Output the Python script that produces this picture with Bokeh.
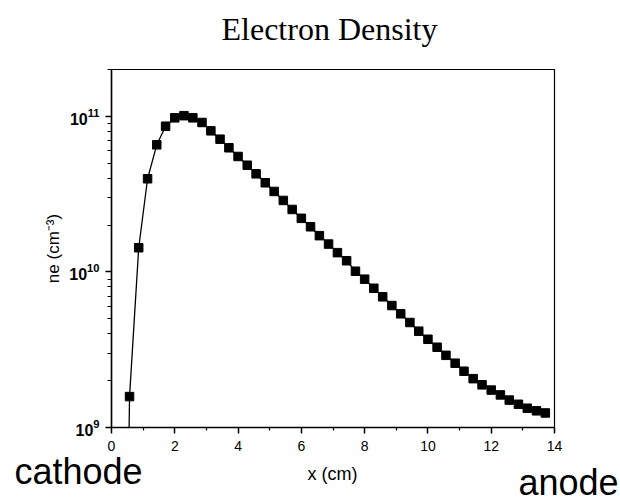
from bokeh.plotting import figure
from bokeh.models import Label, LogTicker, FixedTicker, ColumnDataSource
from bokeh.embed import file_html
from bokeh.resources import INLINE

# data
x_cm = [0.29, 0.57, 0.86, 1.14, 1.43, 1.71, 2.0, 2.29, 2.57, 2.86, 3.14, 3.43,
        3.71, 4.0, 4.29, 4.57, 4.86, 5.14, 5.43, 5.71, 6.0, 6.29, 6.57, 6.86,
        7.14, 7.43, 7.71, 8.0, 8.29, 8.57, 8.86, 9.14, 9.43, 9.71, 10.0, 10.29,
        10.57, 10.86, 11.14, 11.43, 11.71, 12.0, 12.29, 12.57, 12.86, 13.14, 13.43, 13.71]
ne = [1e5, 1.58e9, 1.43e10, 3.97e10, 6.56e10, 8.64e10, 9.78e10, 1.01e11, 9.78e10, 9.13e10,
      8.07e10, 7.13e10, 6.28e10, 5.52e10, 4.85e10, 4.27e10, 3.74e10, 3.29e10, 2.88e10,
      2.52e10, 2.21e10, 1.95e10, 1.71e10, 1.51e10, 1.33e10, 1.18e10, 1.01e10, 8.98e9,
      7.85e9, 6.92e9, 6.08e9, 5.38e9, 4.73e9, 4.16e9, 3.69e9, 3.28e9, 2.91e9, 2.59e9,
      2.30e9, 2.06e9, 1.88e9, 1.74e9, 1.62e9, 1.50e9, 1.41e9, 1.33e9, 1.28e9, 1.24e9]
x_ticks = [0, 2, 4, 6, 8, 10, 12, 14]
x_minor = [1, 3, 5, 7, 9, 11, 13]
title_text = "Electron Density"
x_label = "x (cm)"
y_label = "ne (cm\u207b\u00b3)"
left_note = "cathode"
right_note = "anode"

src = ColumnDataSource(dict(x=x_cm, y=ne))

p = figure(width=620, height=503, y_axis_type="log", x_range=(0, 14), y_range=(1e9, 2e11),
           output_backend="svg", toolbar_location=None,
           min_border_left=111, min_border_right=66, min_border_top=69, min_border_bottom=76)
p.grid.visible = False
p.background_fill_color = "white"
p.border_fill_color = "white"
p.outline_line_color = "black"
p.outline_line_width = 1.2
p.outline_line_alpha = 1

p.line("x", "y", source=src, line_color="black", line_width=1.3)
p.scatter("x", "y", source=src, marker="square", size=8.5, fill_color="black", line_color="black")

xa = p.xaxis[0]
xa.ticker = FixedTicker(ticks=x_ticks, minor_ticks=x_minor)
xa.major_label_text_font = "Liberation Sans"
xa.major_label_text_font_size = "14px"
xa.major_label_text_color = "black"
xa.major_label_standoff = 7
xa.major_tick_out = 6
xa.major_tick_in = 0
xa.minor_tick_out = 3
xa.minor_tick_in = 0
xa.axis_line_width = 1.5
xa.major_tick_line_width = 1.5
xa.minor_tick_line_width = 1.2

ya = p.yaxis[0]
ya.ticker = LogTicker(num_minor_ticks=10)
ya.axis_label = y_label
ya.axis_label_text_font = "Liberation Sans"
ya.axis_label_text_font_style = "normal"
ya.axis_label_text_font_size = "17px"
ya.axis_label_text_color = "black"
ya.axis_label_standoff = 3
ya.major_label_text_font = "Liberation Sans"
ya.major_label_text_font_style = "bold"
ya.major_label_text_font_size = "16px"
ya.major_label_text_color = "black"
ya.major_label_standoff = 6
ya.major_tick_out = 6
ya.major_tick_in = 0
ya.minor_tick_out = 4
ya.minor_tick_in = 0
ya.axis_line_width = 1.5
ya.major_tick_line_width = 1.5
ya.minor_tick_line_width = 1.2

# title: outermost row of the top panel, pulled down toward the frame
p.title.text = title_text
p.title.text_font = "Liberation Serif"
p.title.text_font_size = "32px"
p.title.text_font_style = "normal"
p.title.text_color = "black"
p.title.align = "left"
p.title.offset = 110
p.title.vertical_align = "bottom"
p.title.standoff = -36

# other texts outside the frame: labels in side panels (canvas pixel units, not clipped)
def note(x, y, text, font, size, align):
    return Label(x=x, y=y, x_units="canvas", y_units="canvas", text=text,
                 text_font=font, text_font_size=size, text_align=align,
                 text_baseline="middle", text_color="black")

p.add_layout(note(618, 481.5, right_note, "Liberation Sans", "36px", "right"), "above")
p.add_layout(note(332, 473.8, x_label, "Liberation Sans", "18px", "center"), "right")
p.add_layout(note(14, 470.5, left_note, "Liberation Sans", "36px", "left"), "below")

open("out.html", "w").write(file_html(p, INLINE))
